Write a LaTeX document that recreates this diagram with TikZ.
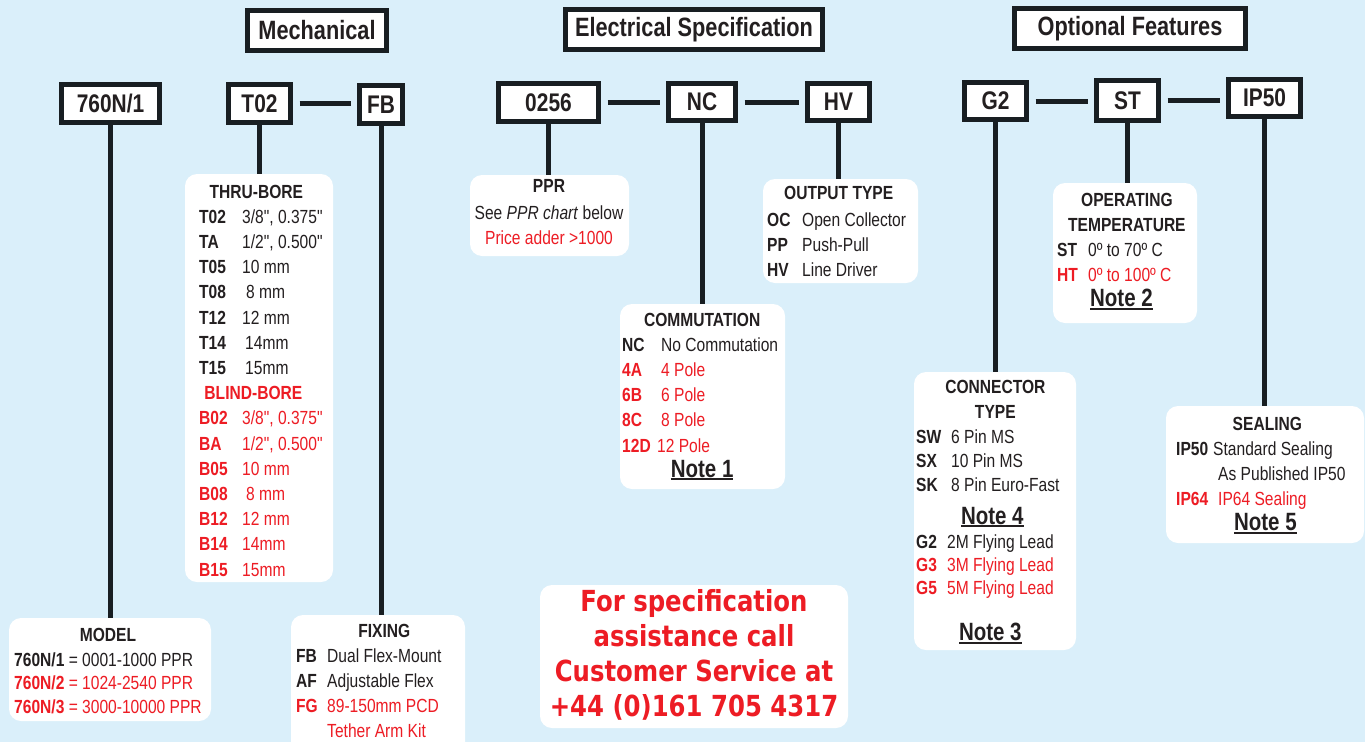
\documentclass[tikz,border=0pt]{standalone}
\usepackage{xcolor}
\usepackage{fontspec}
\usepackage{tikz}

\setmainfont{Liberation Sans}[FakeStretch=0.82, Ligatures=TeXOff]
\newfontfamily\callfont{DejaVu Sans}[FakeStretch=0.84]

\definecolor{skyback}{RGB}{218,239,250}
\definecolor{specred}{RGB}{237,28,36}
\definecolor{framedark}{RGB}{24,30,34}
\definecolor{inkgrey}{RGB}{35,31,32}

\newcommand{\rd}[1]{\textcolor{specred}{#1}}
\newcommand{\codeitem}[2]{\textbf{#1} & #2}
\newcommand{\reditem}[2]{\textbf{\rd{#1}} & \rd{#2}}
\newcommand{\head}[2]{\multicolumn{2}{@{}c@{}}{\hspace{#1}\textbf{#2}}}
\newcommand{\notelabel}[1]{{\fontsize{25}{25.2}\selectfont\bfseries
  \setbox0\hbox{Note #1}\rlap{\copy0}\rule[-3pt]{\wd0}{1.8pt}}}
\newcommand{\noterow}[2]{\multicolumn{2}{@{}c@{}}{\hspace{#1}\notelabel{#2}}}

\begin{document}
\begin{tikzpicture}[x=1pt, y=-1pt,
    codebox/.style={draw=framedark, line width=5pt, fill=white, inner sep=0pt,
      text=inkgrey, font=\fontsize{25.5}{28}\selectfont\bfseries},
    titlebox/.style={codebox, font=\fontsize{26.5}{28}\selectfont\bfseries},
    infobox/.style={fill=white, rounded corners=12pt, inner sep=0pt},
    listtext/.style={anchor=base west, inner sep=0pt, text=inkgrey,
      font=\fontsize{19}{25.2}\selectfont},
    stem/.style={draw=framedark, line width=5pt},
    link/.style={stem, shorten <=6.5pt, shorten >=6.5pt}]
            \fill[skyback] (0, 0) rectangle (1365, 742);
            \useasboundingbox (0, 0) rectangle (1365, 742);

            % group titles
            \node[titlebox, minimum width=139pt, minimum height=40pt] at (317, 30.5) (mech) {Mechanical};
            \node[titlebox, minimum width=257pt, minimum height=40pt] at (694, 29.5) (elec) {Electrical Specification};
            \node[titlebox, minimum width=231pt, minimum height=40pt] at (1130, 28.5) (opt) {Optional Features};

            % part number codes
            \node[codebox, minimum width=98pt, minimum height=38pt] at (110.5, 103.5) (m760) {760N/1};
            \node[codebox, minimum width=62pt, minimum height=38pt] at (259.5, 103.5) (t02) {T02};
            \node[codebox, minimum width=43pt, minimum height=38pt] at (381, 104.5) (fb) {FB};
            \node[codebox, minimum width=100pt, minimum height=38pt] at (548.5, 102.5) (p0256) {0256};
            \node[codebox, minimum width=67pt, minimum height=37pt] at (702, 102) (nc) {NC};
            \node[codebox, minimum width=62pt, minimum height=37pt] at (838.5, 102) (hv) {HV};
            \node[codebox, minimum width=62pt, minimum height=37pt] at (995.5, 101) (g2) {G2};
            \node[codebox, minimum width=62pt, minimum height=40pt] at (1127.5, 100.5) (st) {ST};
            \node[codebox, minimum width=72pt, minimum height=37pt] at (1264.5, 98) (ip50) {IP50};

            % option boxes
            \node[infobox, minimum width=202pt, minimum height=103pt] at (110, 669.5) (modelbox) {};
            \node[infobox, minimum width=148pt, minimum height=408pt] at (259, 378) (borebox) {};
            \node[infobox, minimum width=174pt, minimum height=140pt] at (378, 685) (fixbox) {};
            \node[infobox, minimum width=159pt, minimum height=81pt] at (549.5, 215.5) (pprbox) {};
            \node[infobox, minimum width=155pt, minimum height=104pt] at (840.5, 231) (outbox) {};
            \node[infobox, minimum width=165pt, minimum height=185pt] at (702.5, 396.5) (combox) {};
            \node[infobox, minimum width=144pt, minimum height=140pt] at (1125, 253) (tempbox) {};
            \node[infobox, minimum width=162pt, minimum height=278pt] at (995, 511) (connbox) {};
            \node[infobox, minimum width=198pt, minimum height=137pt] at (1265, 474.5) (sealbox) {};
            \node[infobox, minimum width=308pt, minimum height=143pt] at (694, 656.5) (callbox) {};

            % box texts
            \node[listtext] at (14, 641) (modeltext) {\begin{tabular}[t]{@{}l@{}}
              \multicolumn{1}{@{}c@{}}{\textbf{MODEL}}\\
              \textbf{760N/1} = 0001-1000 PPR\\[-2pt]
              \rd{\textbf{760N/2} = 1024-2540 PPR}\\[-1pt]
              \rd{\textbf{760N/3} = 3000-10000 PPR}
            \end{tabular}};
            \node[listtext] at (199, 198) (boretext) {\begin{tabular}[t]{@{}p{43pt}@{}l@{}}
              \head{-9pt}{THRU-BORE}\\
              \codeitem{T02}{3/8", 0.375"}\\
              \codeitem{TA}{1/2", 0.500"}\\
              \codeitem{T05}{10 mm}\\
              \codeitem{T08}{\hspace{4pt}8 mm}\\
              \codeitem{T12}{12 mm}\\
              \codeitem{T14}{\hspace{3pt}14mm}\\
              \codeitem{T15}{\hspace{3pt}15mm}\\
              \head{-15pt}{\rd{BLIND-BORE}}\\
              \reditem{B02}{3/8", 0.375"}\\
              \reditem{BA}{1/2", 0.500"}\\
              \reditem{B05}{10 mm}\\
              \reditem{B08}{\hspace{4pt}8 mm}\\
              \reditem{B12}{12 mm}\\
              \reditem{B14}{14mm}\\
              \reditem{B15}{15mm}
            \end{tabular}};
            \node[listtext] at (296, 637) (fixtext) {\begin{tabular}[t]{@{}p{31pt}@{}l@{}}
              \head{31pt}{FIXING}\\
              \codeitem{FB}{Dual Flex-Mount}\\
              \codeitem{AF}{Adjustable Flex}\\
              \reditem{FG}{89-150mm PCD}\\
              & \rd{Tether Arm Kit}
            \end{tabular}};
            \node[listtext, anchor=base] at (549, 192) (pprtext) {\begin{tabular}[t]{@{}c@{}}
              \textbf{PPR}\\[2pt]
              See \textit{PPR chart} below\\
              \rd{Price adder >1000}
            \end{tabular}};
            \node[listtext] at (767, 199) (outtext) {\begin{tabular}[t]{@{}p{35pt}@{}l@{}}
              \head{4pt}{OUTPUT TYPE}\\[2pt]
              \codeitem{OC}{Open Collector}\\
              \codeitem{PP}{Push-Pull}\\
              \codeitem{HV}{Line Driver}
            \end{tabular}};
            \node[listtext] at (622, 326) (comtext) {\begin{tabular}[t]{@{}p{39pt}@{}l@{}}
              \head{4pt}{COMMUTATION}\\
              \codeitem{NC}{No Commutation}\\
              \reditem{4A}{4 Pole}\\
              \reditem{6B}{6 Pole}\\
              \reditem{8C}{8 Pole}\\
              \reditem{12D}{\hspace{-4pt}12 Pole}\\
              \noterow{4pt}{1}
            \end{tabular}};
            \node[listtext] at (1057, 206) (temptext) {\begin{tabular}[t]{@{}p{31pt}@{}l@{}}
              \head{11pt}{OPERATING}\\
              \head{11pt}{TEMPERATURE}\\
              \codeitem{ST}{0º to 70º C}\\
              \reditem{HT}{0º to 100º C}\\
              \noterow{0pt}{2}
            \end{tabular}};
            \node[listtext] at (916, 393) (conntext) {\begin{tabular}[t]{@{}p{35pt}@{}l@{}}
              \head{15pt}{CONNECTOR}\\
              \head{15pt}{TYPE}\\
              \codeitem{SW}{6 Pin MS}\\[-1pt]
              \codeitem{SX}{10 Pin MS}\\[-1pt]
              \codeitem{SK}{8 Pin Euro-Fast}\\[7pt]
              \noterow{9pt}{4}\\[-1pt]
              \codeitem{G2}{\hspace{-4pt}2M Flying Lead}\\[-2pt]
              \reditem{G3}{\hspace{-4pt}3M Flying Lead}\\[-2pt]
              \reditem{G5}{\hspace{-4pt}5M Flying Lead}\\[21pt]
              \noterow{5pt}{3}
            \end{tabular}};
            \node[listtext] at (1176, 430) (sealtext) {\begin{tabular}[t]{@{}p{42pt}@{}l@{}}
              \head{13pt}{SEALING}\\
              \codeitem{IP50}{\hspace{-5pt}Standard Sealing}\\
              & As Published IP50\\
              \reditem{IP64}{IP64 Sealing}\\
              \noterow{9pt}{5}
            \end{tabular}};
            \node[anchor=base, inner sep=0pt, text=specred,
              font=\callfont\bfseries\fontsize{29}{35}\selectfont] at (694, 611.5) (calltext) {\begin{tabular}[t]{@{}c@{}}
              For specification\\
              assistance call\\
              Customer Service at\\
              +44 (0)161 705 4317
            \end{tabular}};

            % links between codes
            \draw[link] (t02.east) -- (t02.east -| fb.west);
            \draw[link] (p0256.east) -- (p0256.east -| nc.west);
            \draw[link] (nc.east) -- (nc.east -| hv.west);
            \draw[link] (g2.east) -- (g2.east -| st.west);
            \draw[link] (st.east) -- (st.east -| ip50.west);

            % stems down to the option boxes
            \draw[stem] (m760.south) -- (m760.south |- modelbox.north);
            \draw[stem] (t02.south) -- (t02.south |- borebox.north);
            \draw[stem] (fb.south) -- (fb.south |- fixbox.north);
            \draw[stem] (p0256.south) -- (p0256.south |- pprbox.north);
            \draw[stem] (nc.south) -- (nc.south |- combox.north);
            \draw[stem] (hv.south) -- (hv.south |- outbox.north);
            \draw[stem] (g2.south) -- (g2.south |- connbox.north);
            \draw[stem] (st.south) -- (st.south |- tempbox.north);
            \draw[stem] (ip50.south) -- (ip50.south |- sealbox.north);
    \end{tikzpicture}
\end{document}
